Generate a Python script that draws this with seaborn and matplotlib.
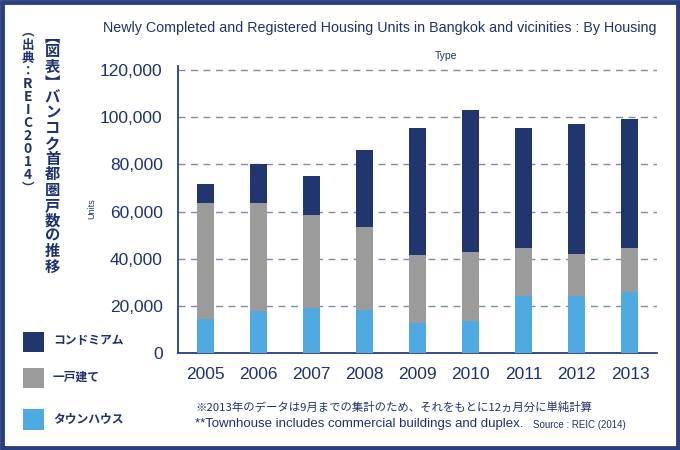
import matplotlib
matplotlib.use("Agg")
import matplotlib.pyplot as plt
from matplotlib.patches import Rectangle
import pandas as pd
import seaborn as sns

# data (units)
years = ["2005", "2006", "2007", "2008", "2009", "2010", "2011", "2012", "2013"]
townhouse = [14500, 17800, 19100, 18200, 12700, 13600, 24200, 24100, 26100]
detached = [49100, 45800, 39400, 35200, 28900, 29200, 20600, 17900, 18400]
condo = [8200, 16400, 16700, 32700, 53800, 60200, 50600, 54900, 54600]
series_labels = ["コンドミアム", "一戸建て", "タウンハウス"]
yticks = [0, 20000, 40000, 60000, 80000, 100000, 120000]

title = "Newly Completed and Registered Housing Units in Bangkok and vicinities : By Housing"
side_title = "︻図表︼バンコク首都圏戸数の推移"
side_source = ["︵", "出", "典", "：", "R", "E", "I", "C", "2", "0", "1", "4", "︶"]
note_jp = "※2013年のデータは9月までの集計のため、それをもとに12ヵ月分に単純計算"
note_en = "**Townhouse includes commercial buildings and duplex."
source = "Source : REIC (2014)"

NAVY = "#21356f"
GRAY = "#9b9b9b"
LIGHT = "#4eaae0"
TEXT = "#1e3171"
FRAME = "#2b3f80"
GRID = "#7d8cb3"

df = pd.DataFrame({"year": years, "town": townhouse, "detached": detached, "condo": condo})
df["low2"] = df["town"] + df["detached"]
df["total"] = df["low2"] + df["condo"]

sns.set_theme(style="white")
plt.rcParams["font.family"] = ["Liberation Sans", "Noto Sans CJK JP", "DejaVu Sans"]

W, H = 680, 450
fig = plt.figure(figsize=(6.8, 4.5), dpi=100)
ax = fig.add_axes([178 / W, 1 - 353.3 / H, 479 / W, 286.9 / H])

# stacked bars drawn as overlapping cumulative totals
for col, c in [("total", NAVY), ("low2", GRAY), ("town", LIGHT)]:
    sns.barplot(data=df, x="year", y=col, color=c, width=0.32, saturation=1,
                errorbar=None, linewidth=0, zorder=3, ax=ax)

ax.set_xlim(-0.52, 8.51)
ax.set_ylim(0, 121500)
ax.set_yticks(yticks)
ax.set_yticklabels([f"{v:,}" for v in yticks])
ax.set_xlabel("")
ax.set_ylabel("")
ax.yaxis.grid(True, linestyle=(0, (5, 4)), color=GRID, lw=1)
ax.xaxis.grid(False)
ax.set_axisbelow(True)
for s in ["top", "right"]:
    ax.spines[s].set_visible(False)
for s in ["left", "bottom"]:
    ax.spines[s].set_color(FRAME)
    ax.spines[s].set_linewidth(1.3)
ax.tick_params(axis="y", length=0, pad=11, labelsize=12.5, labelcolor=TEXT)
ax.tick_params(axis="x", length=0, pad=10, labelsize=12.5, labelcolor=TEXT)

fig.text(103 / W, 1 - 28 / H, title, fontsize=10.3, color=TEXT, ha="left", va="center")
fig.text(446 / W, 1 - 56 / H, "Type", fontsize=7.5, color=TEXT, ha="center", va="center")
fig.text(92 / W, 1 - 209 / H, "Units", fontsize=6.5, color=TEXT, rotation=90,
         ha="center", va="center")

# vertical Japanese titles, one character per cell
for i, ch in enumerate(side_title):
    fig.text(52.5 / W, 1 - (35.7 + i * 15.4) / H, ch, fontsize=11, weight="bold",
             color=TEXT, family=["Noto Sans CJK JP", "DejaVu Sans"], ha="center", va="center")
for i, ch in enumerate(side_source):
    size = 10 if ch.isascii() else 9
    fig.text(28 / W, 1 - (32 + i * 13) / H, ch, fontsize=size, weight="bold",
             color=TEXT, family=["Noto Sans CJK JP", "DejaVu Sans"], ha="center", va="center")

# legend on the left
for lab, c, yc in zip(series_labels, [NAVY, GRAY, LIGHT], [342, 378, 419.5]):
    fig.add_artist(Rectangle((23 / W, 1 - (yc + 10.3) / H), 21 / W, 20.6 / H,
                             transform=fig.transFigure, color=c, lw=0))
    fig.text(53 / W, 1 - (yc - 1) / H, lab, fontsize=8.5, weight="bold", color=TEXT,
             family=["Noto Sans CJK JP", "DejaVu Sans"], ha="left", va="center")

fig.text(195 / W, 1 - 407 / H, note_jp, fontsize=8.2, color=TEXT,
         family=["Noto Sans CJK JP", "DejaVu Sans"], ha="left", va="center")
fig.text(195 / W, 1 - 424 / H, note_en, fontsize=9.5, color=TEXT, ha="left", va="center")
fig.text(533 / W, 1 - 425 / H, source, fontsize=7, color=TEXT, ha="left", va="center")

fig.add_artist(Rectangle((0.003, 0.004), 0.994, 0.992, fill=False, lw=3.5,
                         edgecolor=FRAME, transform=fig.transFigure))

fig.savefig("out.png", dpi=100)
